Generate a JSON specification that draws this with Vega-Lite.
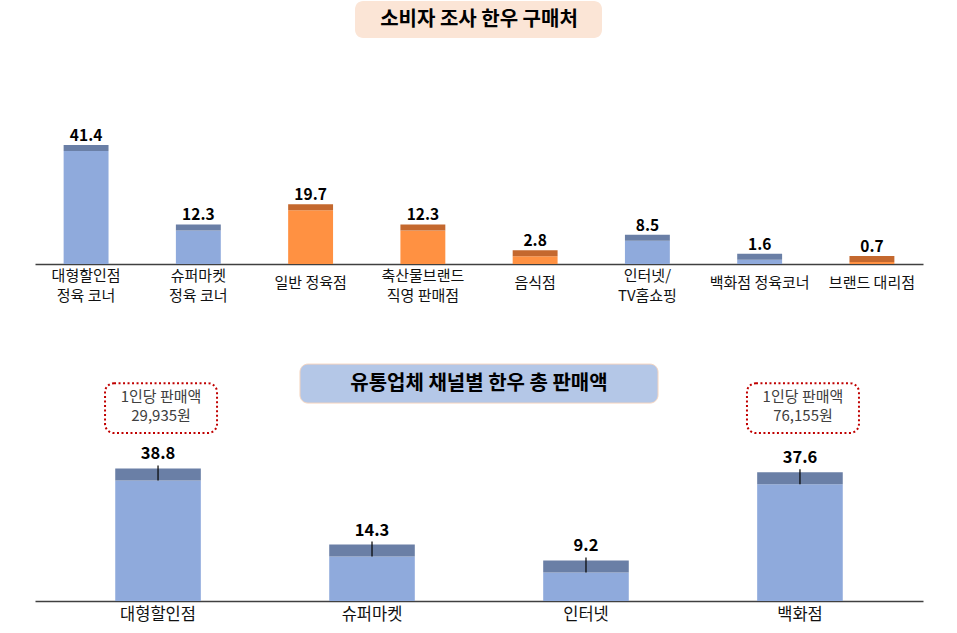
{
  "$schema": "https://vega.github.io/schema/vega-lite/v6.json",
  "padding": {"left": 35, "top": 0, "right": 34, "bottom": 0},
  "background": "white",
  "config": {"view": {"stroke": null}, "font": "Noto Sans CJK KR"},
  "datasets": {
    "top": [
      {"channel": "대형할인점\n정육 코너", "value": 41.4, "group": "blue"},
      {"channel": "슈퍼마켓\n정육 코너", "value": 12.3, "group": "blue"},
      {"channel": "일반 정육점", "value": 19.7, "group": "orange"},
      {"channel": "축산물브랜드\n직영 판매점", "value": 12.3, "group": "orange"},
      {"channel": "음식점", "value": 2.8, "group": "orange"},
      {"channel": "인터넷/\nTV홈쇼핑", "value": 8.5, "group": "blue"},
      {"channel": "백화점 정육코너", "value": 1.6, "group": "blue"},
      {"channel": "브랜드 대리점", "value": 0.7, "group": "orange"}
    ],
    "bottom": [
      {"channel": "대형할인점", "value": 38.8, "note": "1인당 판매액\n29,935원"},
      {"channel": "슈퍼마켓", "value": 14.3, "note": null},
      {"channel": "인터넷", "value": 9.2, "note": null},
      {"channel": "백화점", "value": 37.6, "note": "1인당 판매액\n76,155원"}
    ]
  },
  "spacing": 76,
  "bounds": "flush",
  "vconcat": [
    {
      "width": 888,
      "height": 264,
      "resolve": {"scale": {"x": "independent"}},
      "layer": [
        {
          "data": {"name": "top"},
          "encoding": {
            "x": {
              "field": "channel", "type": "nominal", "sort": null, "title": null,
              "scale": {"paddingInner": 0.6, "paddingOuter": 0.255},
              "axis": {
                "domainColor": "#404040", "domainWidth": 1.5, "ticks": false, "tickSize": 0,
                "labels": false, "grid": false
              }
            },
            "y": {"field": "value", "type": "quantitative", "scale": {"domain": [0, 96.75], "nice": false}, "axis": null}
          },
          "layer": [
            {
              "mark": {"type": "bar"},
              "encoding": {"color": {"condition": {"test": "datum.group === 'orange'", "value": "#ff9142"}, "value": "#8faadc"}}
            },
            {
              "mark": {"type": "bar", "y2Offset": -6},
              "encoding": {
                "y2": {"field": "value"},
                "color": {"condition": {"test": "datum.group === 'orange'", "value": "#c4682e"}, "value": "#6a7fa6"}
              }
            },
            {
              "mark": {"type": "text", "baseline": "alphabetic", "dy": -10, "fontSize": 15.5, "fontWeight": "bold", "color": "#000000", "font": "Noto Sans CJK KR"},
              "encoding": {"text": {"field": "value", "type": "quantitative", "format": ".1f"}}
            },
            {
              "transform": [{"filter": "indexof(datum.channel, '\\n') < 0"}],
              "mark": {"type": "text", "baseline": "middle", "dy": 19, "fontSize": 15, "color": "#111111", "font": "Noto Sans CJK KR"},
              "encoding": {"y": {"datum": 0, "type": "quantitative"}, "text": {"field": "channel"}}
            },
            {
              "transform": [{"filter": "indexof(datum.channel, '\\n') >= 0"}],
              "mark": {"type": "text", "baseline": "middle", "dy": 12, "fontSize": 15, "color": "#111111", "lineBreak": "\n", "lineHeight": 20, "font": "Noto Sans CJK KR"},
              "encoding": {"y": {"datum": 0, "type": "quantitative"}, "text": {"field": "channel"}}
            }
          ]
        },
        {
          "data": {"values": [{"t": "소비자 조사 한우 구매처"}]},
          "layer": [
            {
              "mark": {"type": "rect", "fill": "#fbe5d6", "cornerRadius": 8},
              "encoding": {
                "x": {"datum": 0.3604, "type": "quantitative", "scale": {"domain": [0, 1], "nice": false}, "axis": null},
                "x2": {"datum": 0.6385},
                "y": {"datum": 96.4, "type": "quantitative", "axis": null},
                "y2": {"datum": 82.8}
              }
            },
            {
              "mark": {"type": "text", "fontSize": 20, "fontWeight": "bold", "color": "#000000", "baseline": "middle", "font": "Noto Sans CJK KR"},
              "encoding": {
                "x": {"datum": 0.5, "type": "quantitative"},
                "y": {"datum": 89.6, "type": "quantitative", "axis": null},
                "text": {"field": "t"}
              }
            }
          ]
        }
      ]
    },
    {
      "width": 888,
      "height": 261,
      "resolve": {"scale": {"x": "independent"}},
      "layer": [
        {
          "data": {"name": "bottom"},
          "encoding": {
            "x": {
              "field": "channel", "type": "nominal", "sort": null, "title": null,
              "scale": {"paddingInner": 0.6, "paddingOuter": 0.375},
              "axis": {
                "domainColor": "#404040", "domainWidth": 1.5, "ticks": false, "tickSize": 0,
                "labelAngle": 0, "labelPadding": 13, "labelBaseline": "middle",
                "labelFontSize": 16.5, "labelColor": "#111111", "labelFont": "Noto Sans CJK KR", "grid": false
              }
            },
            "y": {"field": "value", "type": "quantitative", "scale": {"domain": [0, 84], "nice": false}, "axis": null}
          },
          "layer": [
            {"mark": {"type": "bar", "color": "#8faadc"}},
            {
              "mark": {"type": "bar", "y2Offset": -12, "color": "#6a7fa6"},
              "encoding": {"y2": {"field": "value"}}
            },
            {
              "mark": {"type": "rule", "y2Offset": -15, "color": "#000000", "strokeWidth": 1.2},
              "encoding": {"y2": {"field": "value"}}
            },
            {
              "mark": {"type": "text", "baseline": "alphabetic", "dy": -21, "fontSize": 16.5, "fontWeight": "bold", "color": "#000000", "font": "Noto Sans CJK KR"},
              "encoding": {"text": {"field": "value", "type": "quantitative", "format": ".1f"}}
            },
            {
              "transform": [{"filter": "isValid(datum.note)"}],
              "mark": {"type": "bar", "width": 112, "xOffset": 3, "fill": "#ffffff", "stroke": "#c00000", "strokeWidth": 2, "strokeDash": [2, 2.5], "cornerRadius": 9},
              "encoding": {"y": {"datum": 70.1, "type": "quantitative"}, "y2": {"datum": 54.05}}
            },
            {
              "transform": [{"filter": "isValid(datum.note)"}],
              "mark": {"type": "text", "xOffset": 3, "fontSize": 15, "color": "#404040", "baseline": "middle", "lineBreak": "\n", "lineHeight": 19, "font": "Noto Sans CJK KR"},
              "encoding": {"y": {"datum": 65.8, "type": "quantitative"}, "text": {"field": "note"}}
            }
          ]
        },
        {
          "data": {"values": [{"t": "유통업체 채널별 한우 총 판매액"}]},
          "layer": [
            {
              "mark": {"type": "rect", "fill": "#b4c7e7", "stroke": "#f6d5bf", "strokeWidth": 1, "cornerRadius": 8},
              "encoding": {
                "x": {"datum": 0.2984, "type": "quantitative", "scale": {"domain": [0, 1], "nice": false}, "axis": null},
                "x2": {"datum": 0.7016},
                "y": {"datum": 76.25, "type": "quantitative", "axis": null},
                "y2": {"datum": 63.7}
              }
            },
            {
              "mark": {"type": "text", "fontSize": 20, "fontWeight": "bold", "color": "#000000", "baseline": "middle", "font": "Noto Sans CJK KR"},
              "encoding": {
                "x": {"datum": 0.5, "type": "quantitative"},
                "y": {"datum": 70.0, "type": "quantitative", "axis": null},
                "text": {"field": "t"}
              }
            }
          ]
        }
      ]
    }
  ]
}
